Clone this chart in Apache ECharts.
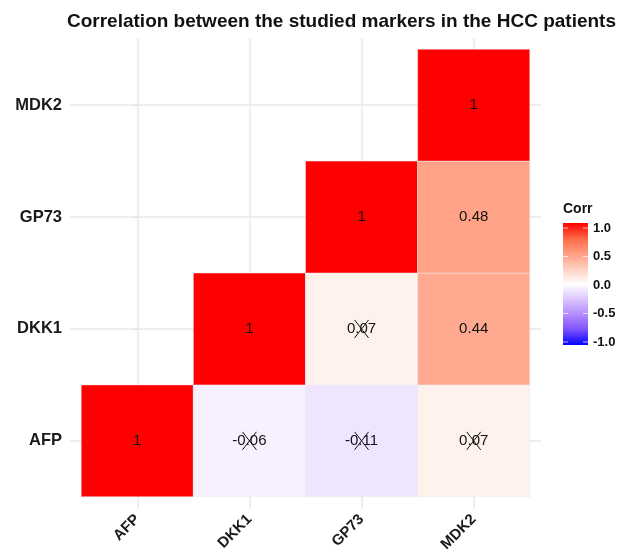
<!DOCTYPE html>
<html>
<head>
<meta charset="utf-8">
<script src="https://cdn.jsdelivr.net/npm/echarts@6/dist/echarts.min.js"></script>
<style>html,body{margin:0;padding:0;background:#fff;}#chart{width:618px;height:556px;}</style>
</head>
<body>
<div id="chart"></div>
<script>
// ---- data ----
const markers = ['AFP', 'DKK1', 'GP73', 'MDK2'];
// correlation rows (y category) against columns (x category); null = not drawn
const rowAFP  = [1, -0.06, -0.11, 0.07];
const rowDKK1 = [null, 1, 0.07, 0.44];
const rowGP73 = [null, null, 1, 0.48];
const rowMDK2 = [null, null, null, 1];
// non-significant pairs [column, row], drawn crossed out
const insignificantPairs = [['DKK1', 'AFP'], ['GP73', 'AFP'], ['MDK2', 'AFP'], ['GP73', 'DKK1']];
const legendTicks = [1.0, 0.5, 0.0, -0.5, -1.0];
const titleText = 'Correlation between the studied markers in the HCC patients';
const legendTitle = 'Corr';

// ---- build ----
const rows = [rowAFP, rowDKK1, rowGP73, rowMDK2];
const cells = [];
rows.forEach((row, r) => {
  row.forEach((v, c) => {
    if (v === null) return;
    const crossed = insignificantPairs.some(p => p[0] === markers[c] && p[1] === markers[r]) ? 1 : 0;
    cells.push([c, r, v, crossed]);
  });
});

const FONT = '"Liberation Sans", Arial, Helvetica, sans-serif';
const scaleColors = ['#0000FF', '#7E51FF', '#B38BFF', '#DCC4FF', '#FFFFFF', '#FFCFBF', '#FF9E81', '#FF6846', '#FF0000'];
const idx = [0, 1, 2, 3];

// legend geometry
const barX = 563, barTop = 223, barH = 122, barW = 25;
const tickTop = 228, tickBottom = 342;
const legendGraphics = [
  { type: 'text', left: barX, top: 202, style: { text: legendTitle, font: 'bold 14px ' + FONT, fill: '#111' } },
  { type: 'rect', shape: { x: barX, y: barTop, width: barW, height: barH },
    style: { fill: new echarts.graphic.LinearGradient(0, 0, 0, 1,
      scaleColors.slice().reverse().map((c, i, a) => ({ offset: i / (a.length - 1), color: c }))) } }
];
legendTicks.forEach(t => {
  const y = tickTop + (1 - t) / 2 * (tickBottom - tickTop);
  legendGraphics.push({ type: 'text', x: barX + barW + 5, y: y,
    style: { text: t.toFixed(1), font: 'bold 13px ' + FONT, fill: '#111', verticalAlign: 'middle' } });
  legendGraphics.push({ type: 'line', shape: { x1: barX, y1: y, x2: barX + 5, y2: y }, style: { stroke: 'rgba(255,255,255,0.7)', lineWidth: 1 } });
  legendGraphics.push({ type: 'line', shape: { x1: barX + barW - 5, y1: y, x2: barX + barW, y2: y }, style: { stroke: 'rgba(255,255,255,0.7)', lineWidth: 1 } });
});

const chart = echarts.init(document.getElementById('chart'), null, { renderer: 'canvas' });
chart.setOption({
  backgroundColor: '#fff',
  animation: false,
  title: {
    text: titleText, left: 62, top: 7,
    textStyle: { fontFamily: FONT, fontWeight: 'bold', fontSize: 19, color: '#111' }
  },
  grid: { left: 70, right: 77, top: 38, bottom: 48 },
  xAxis: {
    type: 'value', min: -0.6, max: 3.6,
    axisLine: { show: false },
    axisTick: { show: true, customValues: idx, length: 4, lineStyle: { color: '#d9d9d9' } },
    axisLabel: { customValues: idx, formatter: v => markers[Math.round(v)] || '', rotate: 45, margin: 9,
      fontFamily: FONT, fontWeight: 'bold', fontSize: 15, color: '#1a1a1a' },
    splitLine: { show: true, lineStyle: { color: '#e8e8e8', width: 1.5 } }
  },
  yAxis: {
    type: 'value', min: -0.6, max: 3.6,
    axisLine: { show: false },
    axisTick: { show: true, customValues: idx, length: 3, lineStyle: { color: '#d9d9d9' } },
    axisLabel: { customValues: idx, formatter: v => markers[Math.round(v)] || '', margin: 8,
      fontFamily: FONT, fontWeight: 'bold', fontSize: 16.5, color: '#1a1a1a' },
    splitLine: { show: true, lineStyle: { color: '#e8e8e8', width: 1.5 } }
  },
  visualMap: {
    type: 'continuous', show: false, min: -1, max: 1, dimension: 2, seriesIndex: 0,
    inRange: { color: scaleColors }
  },
  series: [{
    type: 'custom',
    data: cells,
    encode: { x: 0, y: 1 },
    renderItem: function (params, api) {
      const x = api.value(0), y = api.value(1), v = api.value(2), crossed = api.value(3);
      const c = api.coord([x, y]);
      const s = api.size([1, 1]);
      const children = [
        { type: 'rect', shape: { x: c[0] - s[0] / 2, y: c[1] - s[1] / 2, width: s[0], height: s[1] },
          style: { fill: api.visual('color'), stroke: 'rgba(235,235,235,0.5)', lineWidth: 1 } },
        { type: 'text', x: c[0], y: c[1],
          style: { text: v === 1 ? '1' : String(v), align: 'center', verticalAlign: 'middle',
            font: '15px ' + FONT, fill: '#111' } }
      ];
      if (crossed) {
        const hw = 7, hh = 9;
        children.push({ type: 'line', shape: { x1: c[0] - hw, y1: c[1] - hh, x2: c[0] + hw, y2: c[1] + hh }, style: { stroke: '#111', lineWidth: 1 } });
        children.push({ type: 'line', shape: { x1: c[0] - hw, y1: c[1] + hh, x2: c[0] + hw, y2: c[1] - hh }, style: { stroke: '#111', lineWidth: 1 } });
      }
      return { type: 'group', children: children };
    }
  }],
  graphic: legendGraphics
});
</script>
</body>
</html>
